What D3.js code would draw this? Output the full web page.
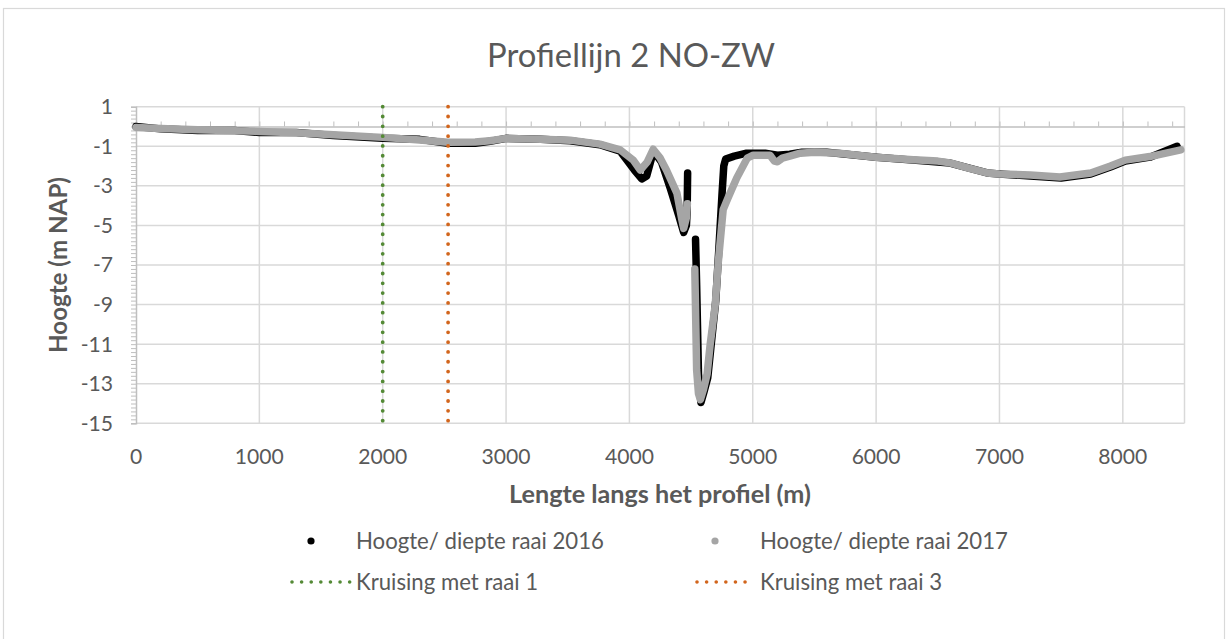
<!DOCTYPE html>
<html>
<head>
<meta charset="utf-8">
<script src="https://cdn.jsdelivr.net/npm/d3@7"></script>
<style>
  html, body { margin: 0; padding: 0; background: #fff; }
  svg { display: block; }
</style>
</head>
<body>
<svg id="chart" width="1227" height="639"></svg>
<script>
// Bodemprofiel langs profiellijn 2 (NO-ZW), afstand in m, hoogte in m NAP
const afstand2016 = [0, 200, 500, 800, 1000, 1300, 1600, 2000, 2300, 2530, 2750, 2870, 3000, 3280, 3520, 3760, 3925,
  4040, 4100, 4140, 4195, 4260, 4330, 4400, 4440, 4462, 4468, 4472, null,
  4536, 4545, 4560, 4580, 4605, 4635, 4660, 4700, 4725, 4750, 4765, 4780, 4850, 4950, 5100, 5200, 5300, 5400,
  5600, 6000, 6300, 6600, 6900, 7000, 7250, 7500, 7740, 7900, 8020, 8220, 8440];
const hoogte2016 = [0.0, -0.12, -0.2, -0.2, -0.3, -0.3, -0.45, -0.6, -0.65, -0.85, -0.85, -0.75, -0.6, -0.65, -0.72, -0.92, -1.25,
  -2.2, -2.65, -2.5, -1.25, -1.8, -3.1, -4.5, -5.35, -5.0, -4.3, -2.35, null,
  -5.7, -8.0, -12.5, -13.95, -13.4, -12.7, -11.2, -8.8, -6.2, -3.5, -2.0, -1.65, -1.5, -1.35, -1.35, -1.45, -1.4, -1.3,
  -1.3, -1.55, -1.7, -1.85, -2.35, -2.4, -2.5, -2.6, -2.4, -2.05, -1.75, -1.55, -1.0];

const afstand2017 = [0, 200, 500, 800, 1000, 1300, 1600, 2000, 2300, 2530, 2750, 2870, 3000, 3280, 3520, 3760, 3925,
  4031, 4088, 4144, 4193, 4250, 4300, 4385, 4425, 4440, 4462, 4470, null,
  4530, 4545, 4560, 4575, 4600, 4630, 4655, 4696, 4720, 4760, 4800, 4870, 4955, 5004, 5140, 5175, 5200, 5240, 5300, 5385,
  5500, 5700, 6000, 6300, 6500, 6600, 6750, 6900, 7000, 7250, 7490, 7740, 7900, 8020, 8220, 8470];
const hoogte2017 = [-0.05, -0.1, -0.17, -0.22, -0.25, -0.32, -0.42, -0.55, -0.68, -0.8, -0.78, -0.72, -0.6, -0.65, -0.69, -0.89, -1.18,
  -1.7, -2.2, -1.8, -1.15, -1.6, -2.2, -3.37, -4.7, -5.15, -4.6, -3.9, null,
  -7.2, -12.3, -13.5, -13.8, -13.3, -12.5, -11.0, -9.0, -6.9, -4.2, -3.6, -2.6, -1.6, -1.45, -1.45, -1.75, -1.78, -1.6, -1.5, -1.35,
  -1.3, -1.35, -1.55, -1.68, -1.75, -1.84, -2.1, -2.35, -2.4, -2.45, -2.55, -2.35, -2.0, -1.7, -1.52, -1.18];

// Kruisingen met de andere raaien (afstand in m)
const kruisingRaai1 = 2000;
const kruisingRaai3 = 2530;

const xTicks = [0, 1000, 2000, 3000, 4000, 5000, 6000, 7000, 8000];
const yTicks = [1, -1, -3, -5, -7, -9, -11, -13, -15];

const titel = "Profiellijn 2 NO-ZW";
const xTitel = "Lengte langs het profiel (m)";
const yTitel = "Hoogte (m NAP)";
const legendaReeksen = ["Hoogte/ diepte raai 2016", "Hoogte/ diepte raai 2017"];
const legendaKruisingen = ["Kruising met raai 1", "Kruising met raai 3"];

const kleur2016 = "#000000";
const kleur2017 = "#A5A5A5";
const kleurRaai1 = "#548a36";
const kleurRaai3 = "#d2651c";
const tekstKleur = "#595959";
const rasterKleur = "#D9D9D9";
const asKleur = "#BFBFBF";
const font = "Lato, 'Open Sans', 'Noto Sans', sans-serif";

const svg = d3.select("#chart");

// Chart frame
svg.append("rect")
  .attr("x", 3.5).attr("y", 8.5).attr("width", 1221).attr("height", 640)
  .attr("fill", "#fff").attr("stroke", "#D9D9D9").attr("stroke-width", 1.2);

const x = d3.scaleLinear().domain([0, 8500]).range([136, 1184.5]);
const y = d3.scaleLinear().domain([1, -15]).range([106.7, 423.3]);

// scale text to a target width
function fitWidth(sel, target) {
  const w = sel.node().getComputedTextLength();
  const fs = parseFloat(sel.attr("font-size"));
  return fs * target / w;
}

// Gridlines
const grid = svg.append("g");
grid.selectAll("line.h").data(yTicks).join("line")
  .attr("x1", x(0)).attr("x2", x(8500))
  .attr("y1", d => y(d)).attr("y2", d => y(d))
  .attr("stroke", rasterKleur).attr("stroke-width", 1.5);
grid.selectAll("line.v").data(xTicks.concat([8500]).slice(1)).join("line")
  .attr("x1", d => x(d)).attr("x2", d => x(d))
  .attr("y1", y(1)).attr("y2", y(-15))
  .attr("stroke", rasterKleur).attr("stroke-width", 1.5);

// Y axis with minor ticks (outside, to the left)
const yAxis = d3.axisLeft(y)
  .tickValues(d3.range(-15, 1.0001, 0.2))
  .tickSize(5).tickFormat("");
const gy = svg.append("g").attr("transform", `translate(${x(0)},0)`).call(yAxis);
gy.select(".domain").attr("stroke", asKleur).attr("stroke-width", 1.5);
gy.selectAll(".tick line").attr("stroke", asKleur).attr("stroke-width", 1);

// X axis crossing at 0 m NAP with minor ticks pointing up
const xAxis = d3.axisTop(x)
  .tickValues(d3.range(0, 8500, 200))
  .tickSize(5).tickFormat("").tickSizeOuter(0);
const gx = svg.append("g").attr("transform", `translate(0,${y(0)})`).call(xAxis);
gx.select(".domain").attr("stroke", asKleur).attr("stroke-width", 1.5);
gx.selectAll(".tick line").attr("stroke", asKleur).attr("stroke-width", 1);

// Tick labels
const yLab = svg.append("g").selectAll("text").data(yTicks).join("text")
  .attr("x", 113).attr("y", d => y(d)).attr("dy", "0.35em")
  .attr("text-anchor", "end").attr("font-family", font).attr("font-size", 20)
  .attr("fill", tekstKleur).text(d => d);
const xLab = svg.append("g").selectAll("text").data(xTicks).join("text")
  .attr("x", d => x(d)).attr("y", 456.5).attr("dy", "0.35em")
  .attr("text-anchor", "middle").attr("font-family", font).attr("font-size", 20)
  .attr("fill", tekstKleur).text(d => d);
const tickFs = fitWidth(xLab.filter(d => d === 5000), 49);
xLab.attr("font-size", tickFs);
yLab.attr("font-size", tickFs);

// Series
const line = d3.line()
  .defined(d => d[1] !== null)
  .x(d => x(d[0])).y(d => y(d[1]));

const reeks2016 = afstand2016.map((d, i) => [d, hoogte2016[i]]);
const reeks2017 = afstand2017.map((d, i) => [d, hoogte2017[i]]);

svg.append("path").datum(reeks2016)
  .attr("d", line).attr("fill", "none")
  .attr("stroke", kleur2016).attr("stroke-width", 7.5)
  .attr("stroke-linejoin", "round").attr("stroke-linecap", "round");
svg.append("path").datum(reeks2017)
  .attr("d", line).attr("fill", "none")
  .attr("stroke", kleur2017).attr("stroke-width", 7.5)
  .attr("stroke-linejoin", "round").attr("stroke-linecap", "round");

// Crossing lines
const kruisingen = [[kruisingRaai1, kleurRaai1], [kruisingRaai3, kleurRaai3]];
svg.append("g").selectAll("line").data(kruisingen).join("line")
  .attr("x1", d => x(d[0])).attr("x2", d => x(d[0]))
  .attr("y1", y(1)).attr("y2", y(-15) - 2)
  .attr("stroke", d => d[1]).attr("stroke-width", 3.8)
  .attr("stroke-linecap", "round").attr("stroke-dasharray", "0.01 9.8");

// Title
const t = svg.append("text")
  .attr("x", 631).attr("y", 55).attr("dy", "0.35em")
  .attr("text-anchor", "middle").attr("font-family", font).attr("font-size", 26)
  .attr("fill", tekstKleur).text(titel);
t.attr("font-size", fitWidth(t, 288));

// Axis titles
const xt = svg.append("text")
  .attr("x", 660).attr("y", 494).attr("dy", "0.35em")
  .attr("text-anchor", "middle").attr("font-family", font).attr("font-weight", "bold")
  .attr("font-size", 20).attr("fill", tekstKleur).text(xTitel);
xt.attr("font-size", fitWidth(xt, 302));
const yt = svg.append("text")
  .attr("transform", "translate(59,265) rotate(-90)").attr("dy", "0.35em")
  .attr("text-anchor", "middle").attr("font-family", font).attr("font-weight", "bold")
  .attr("font-size", 20).attr("fill", tekstKleur).text(yTitel);
yt.attr("font-size", fitWidth(yt, 176));

// Legend
const leg = svg.append("g");
const legPos = [[356, 541], [760, 541]];
leg.selectAll("circle").data([kleur2016, kleur2017]).join("circle")
  .attr("cx", (d, i) => legPos[i][0] - 45).attr("cy", 541).attr("r", 3.6).attr("fill", d => d);
const legTxt = leg.selectAll("text.r").data(legendaReeksen).join("text")
  .attr("x", (d, i) => legPos[i][0]).attr("y", 541).attr("dy", "0.35em")
  .attr("font-family", font).attr("font-size", 20).attr("fill", tekstKleur).text(d => d);
const legFs = fitWidth(legTxt.filter((d, i) => i === 0), 248);
legTxt.attr("font-size", legFs);

const legK = [[kleurRaai1, 292, 350, 356], [kleurRaai3, 697, 753, 760]];
leg.selectAll("line").data(legK).join("line")
  .attr("x1", d => d[1]).attr("x2", d => d[2]).attr("y1", 582).attr("y2", 582)
  .attr("stroke", d => d[0]).attr("stroke-width", 3.6)
  .attr("stroke-linecap", "round").attr("stroke-dasharray", "0.01 9.6");
leg.selectAll("text.k").data(legendaKruisingen).join("text")
  .attr("x", (d, i) => legK[i][3]).attr("y", 582).attr("dy", "0.35em")
  .attr("font-family", font).attr("font-size", legFs).attr("fill", tekstKleur).text(d => d);
</script>
</body>
</html>
